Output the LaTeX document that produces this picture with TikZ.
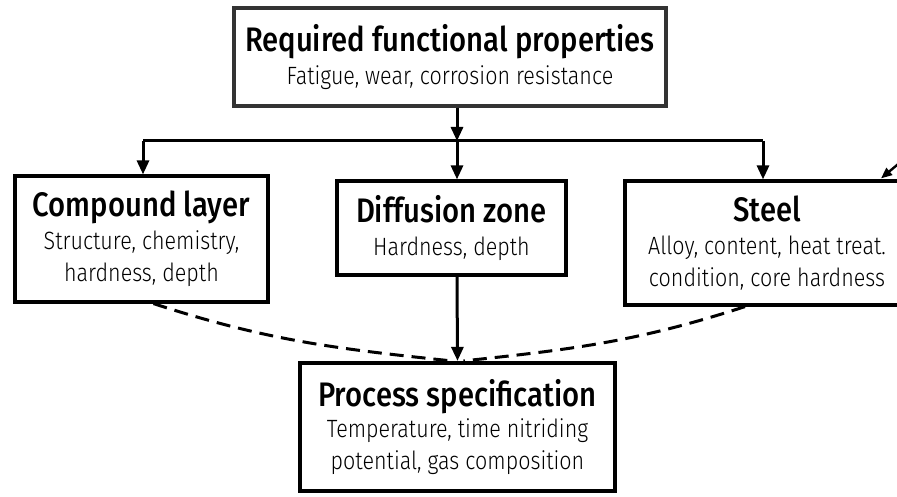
\documentclass[tikz,border=0pt]{standalone}
\usepackage{fontspec}
\IfFontExistsTF{Fira Sans Medium}
  {\setmainfont{Fira Sans}[FakeStretch=0.86,BoldFont={Fira Sans Medium},BoldFeatures={FakeStretch=0.86}]}
  {\setmainfont{Fira Sans}[FakeStretch=0.86]}
\IfFontExistsTF{Fira Sans Light}
  {\newfontfamily\subfont{Fira Sans Light}[FakeStretch=0.86]}
  {\newfontfamily\subfont{Fira Sans}[FakeStretch=0.86]}
\usetikzlibrary{arrows.meta,calc}
\begin{document}
\begin{tikzpicture}[x=1pt,y=-1pt,
  box/.style={draw=black,line width=3.2pt,rectangle,inner sep=0pt,align=center,
    font=\subfont\fontsize{25}{32}\selectfont},
  conn/.style={line width=3pt,-{Triangle[length=14pt,width=12pt]}},
  plain/.style={line width=3pt},
  dsh/.style={line width=3pt,dash pattern=on 14pt off 8pt}]
\useasboundingbox (0,0) rectangle (897,497);
\fill[white] (0,0) rectangle (897,497);
\node[box,draw=black!80,minimum width=432pt,minimum height=98pt] (top) at (450,57)
  {{\rmfamily\fontsize{34}{34}\selectfont\bfseries Required functional properties}\\[1pt]Fatigue, wear, corrosion resistance};
\node[box,minimum width=253pt,minimum height=126pt] (comp) at (141.5,239)
  {{\rmfamily\fontsize{34}{34}\selectfont\bfseries Compound layer}\\[1pt]Structure, chemistry,\\hardness, depth};
\node[box,minimum width=229pt,minimum height=94pt] (diff) at (451.5,228)
  {{\rmfamily\fontsize{34}{34}\selectfont\bfseries Diffusion zone}\\[1pt]Hardness, depth};
\node[box,minimum width=284pt,minimum height=124pt] (steel) at (767,243)
  {{\rmfamily\fontsize{34}{34}\selectfont\bfseries Steel}\\[1pt]Alloy, content, heat treat.\\condition, core hardness};
\node[box,line width=4.2pt,minimum width=315pt,minimum height=128pt] (proc) at (457.5,427)
  {{\rmfamily\fontsize{34}{34}\selectfont\bfseries Process specification}\\[-1pt]Temperature, time nitriding\\potential, gas composition};
% distribution
\coordinate (split) at (457,141);
\coordinate (lft) at (143,141);
\coordinate (rgt) at (763,141);
\draw[conn] ([xshift=7pt]top.south) -- (split);
\draw[plain] (lft) -- (rgt);
\draw[conn] (lft) -- (lft |- comp.north);
\draw[conn] (split) -- (split |- diff.north);
\draw[conn] (rgt) -- (rgt |- steel.north);
\draw[conn] ([xshift=5.5pt]diff.south) -- ([xshift=0pt]proc.north);
% dashed influences
\draw[dsh] ([xshift=12pt]comp.south) to[out=-18,in=174] ([xshift=-6pt]proc.north);
\draw[dsh] ([xshift=-22pt]steel.south) to[out=198,in=6] ([xshift=6pt]proc.north);
% partial arrow entering from the right
\coordinate (ext) at (903,160);
\draw[line width=2.4pt,-{Triangle[length=11pt,width=9pt]}] (ext) -- ($(steel.north)+(114,-1)$);
\end{tikzpicture}
\end{document}
